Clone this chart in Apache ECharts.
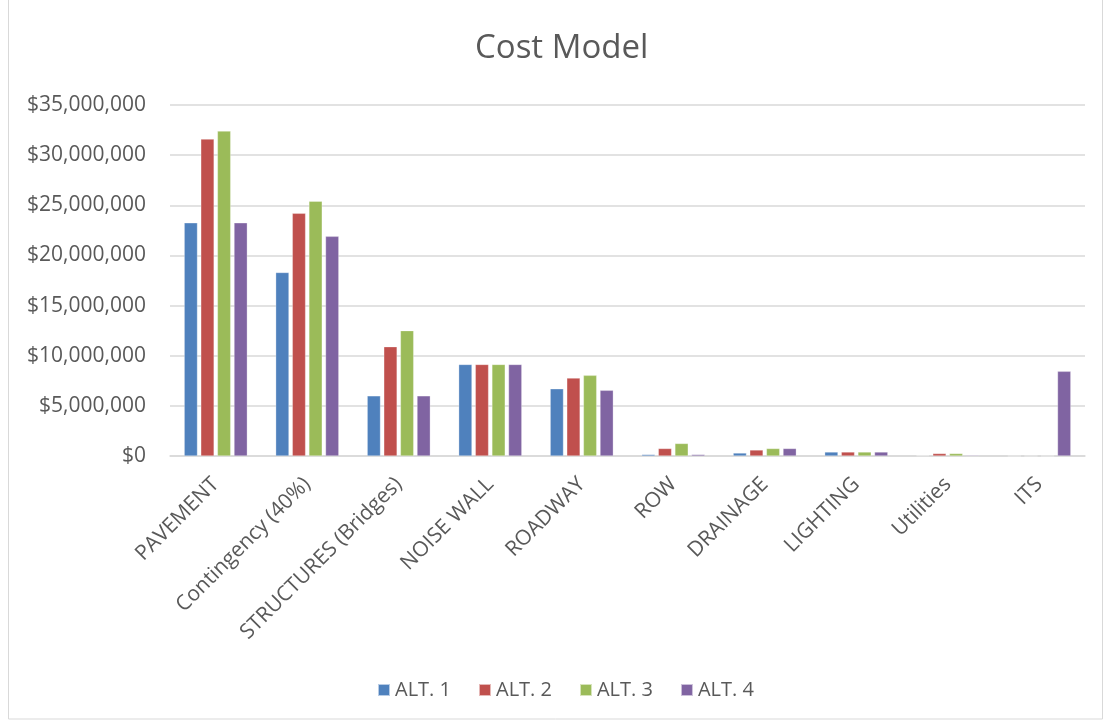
<!DOCTYPE html>
<html>
<head>
<meta charset="utf-8">
<script src="https://cdn.jsdelivr.net/npm/echarts@6/dist/echarts.min.js"></script>
<style>
  html, body { margin: 0; padding: 0; background: #fff; }
  #chart { width: 1104px; height: 721px; }
</style>
</head>
<body>
<div id="chart"></div>
<script>
// Cost categories along the x axis
const categories = ['PAVEMENT', 'Contingency (40%)', 'STRUCTURES (Bridges)', 'NOISE WALL', 'ROADWAY',
  'ROW', 'DRAINAGE', 'LIGHTING', 'Utilities', 'ITS'];

// Cost per alternative, in dollars
const alt1 = [23250000, 18300000, 6000000, 9130000, 6700000, 150000, 300000, 400000, 50000, 0];
const alt2 = [31600000, 24200000, 10900000, 9130000, 7770000, 750000, 600000, 400000, 250000, 0];
const alt3 = [32400000, 25400000, 12500000, 9130000, 8040000, 1250000, 750000, 400000, 250000, 0];
const alt4 = [23250000, 21900000, 6000000, 9130000, 6550000, 150000, 750000, 400000, 80000, 8440000];

const seriesNames = ['ALT. 1', 'ALT. 2', 'ALT. 3', 'ALT. 4'];
const seriesColors = ['#4F81BD', '#C0504D', '#9BBB59', '#8064A2'];

const fontFamily = '"Open Sans", "Liberation Sans", sans-serif';
const textColor = '#595959';

function money(v) {
  return '$' + v.toLocaleString('en-US');
}

const chart = echarts.init(document.getElementById('chart'), null, { renderer: 'canvas' });

chart.setOption({
  backgroundColor: '#fff',
  animation: false,
  title: {
    text: 'Cost Model',
    left: 470,
    top: 27,
    textStyle: { fontFamily, fontSize: 33, fontWeight: 'normal', color: textColor }
  },
  graphic: [{
    type: 'rect',
    shape: { x: 8.5, y: -2, width: 1094, height: 721 },
    style: { fill: 'none', stroke: '#D9D9D9', lineWidth: 1 },
    silent: true
  }],
  legend: {
    bottom: 16,
    left: 372,
    icon: 'rect',
    itemWidth: 12,
    itemHeight: 12,
    itemGap: 27,
    textStyle: { fontFamily, fontSize: 20, color: textColor }
  },
  grid: { left: 170, right: 19, top: 105, bottom: 265, containLabel: false },
  xAxis: {
    type: 'category',
    data: categories,
    axisTick: { show: false },
    axisLine: { lineStyle: { color: '#D9D9D9', width: 1.5 } },
    axisLabel: {
      rotate: 45,
      interval: 0,
      margin: 25,
      fontFamily,
      fontSize: 21,
      color: textColor
    }
  },
  yAxis: {
    type: 'value',
    min: 0,
    max: 35000000,
    interval: 5000000,
    axisLine: { show: false },
    axisTick: { show: false },
    splitLine: { lineStyle: { color: '#D9D9D9', width: 1.5 } },
    axisLabel: {
      formatter: money,
      margin: 24,
      fontFamily,
      fontSize: 21,
      color: textColor
    }
  },
  series: [alt1, alt2, alt3, alt4].map((values, i) => ({
    name: seriesNames[i],
    type: 'bar',
    data: values,
    barGap: '25%',
    barCategoryGap: '31%',
    itemStyle: { color: seriesColors[i], borderColor: 'rgba(255,255,255,0.6)', borderWidth: 0.5 }
  }))
});
</script>
</body>
</html>
